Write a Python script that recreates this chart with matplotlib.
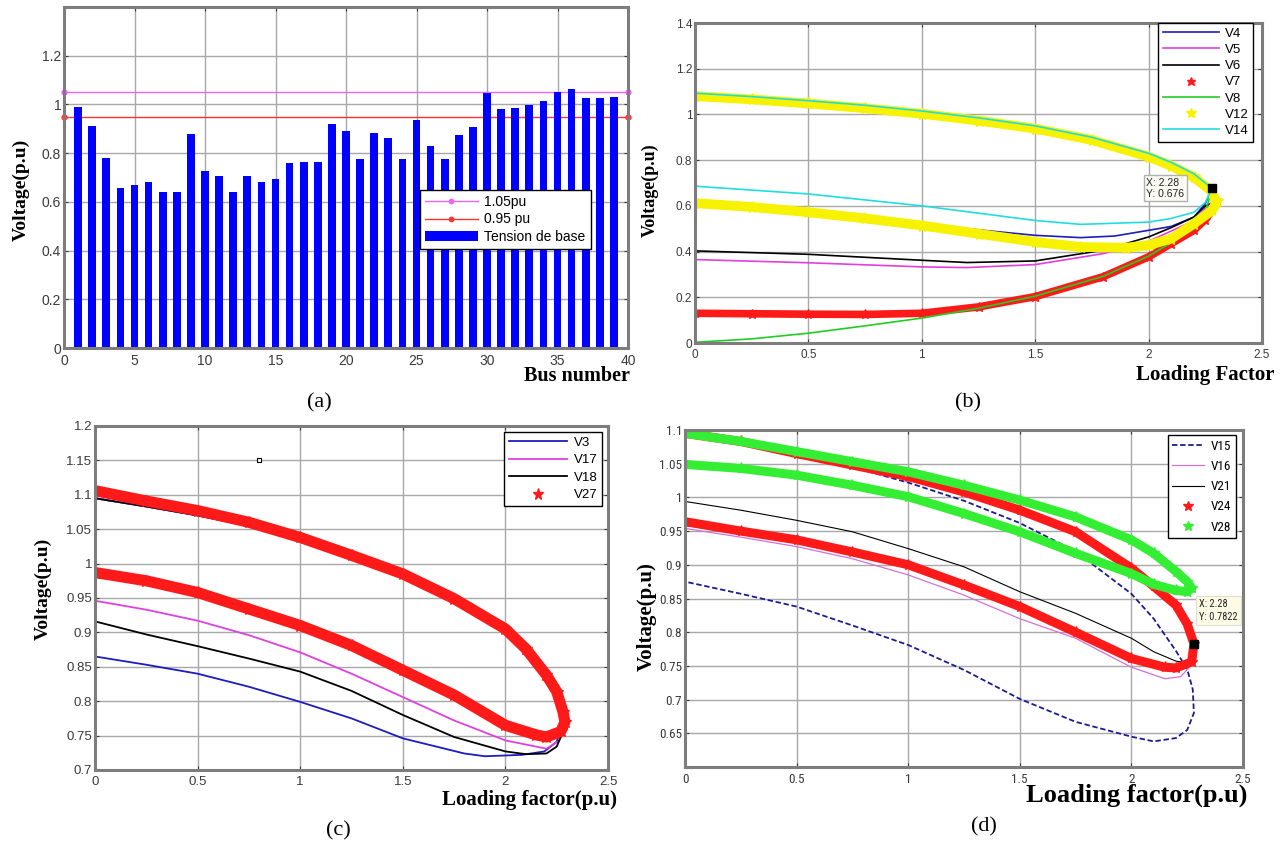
import matplotlib
matplotlib.use("Agg")
import matplotlib.pyplot as plt
from matplotlib import font_manager
from matplotlib.ticker import FuncFormatter, MultipleLocator

W, H = 1288, 848

# ---- (a) base-case bus voltages ----
BUS = list(range(1, 40))
V_BASE = [0.99, 0.91, 0.78, 0.655, 0.67, 0.68, 0.64, 0.64, 0.88, 0.725,
          0.705, 0.64, 0.705, 0.68, 0.695, 0.76, 0.765, 0.765, 0.92, 0.89,
          0.775, 0.884, 0.863, 0.778, 0.937, 0.831, 0.778, 0.873, 0.908, 1.048,
          0.983, 0.986, 0.998, 1.014, 1.05, 1.062, 1.028, 1.026, 1.03]
LIM_X = [0, 40]
LIM_HI = [1.05, 1.05]
LIM_LO = [0.95, 0.95]

# ---- (b) PV curves, buses 4 5 6 7 8 12 14 ----
B_UP_X1 = [0, 0.25, 0.5, 0.75, 1.0, 1.25, 1.5, 1.75, 2.0, 2.1, 2.2, 2.25, 2.28]
B_UP_Y1 = [1.093, 1.078, 1.06, 1.04, 1.015, 0.985, 0.95, 0.9, 0.83, 0.79, 0.74, 0.70, 0.676]
B_UP_X2 = [0, 0.25, 0.5, 0.75, 1.0, 1.25, 1.5, 1.75, 2.0, 2.1, 2.2, 2.27, 2.3]
B_UP_Y2 = [1.08, 1.066, 1.048, 1.027, 1.003, 0.973, 0.938, 0.888, 0.815, 0.775, 0.725, 0.67, 0.62]

B_V4_X = [2.25, 2.2, 2.1, 2.0, 1.85, 1.7, 1.5, 1.25, 1.0, 0.5, 0]
B_V4_Y = [0.61, 0.551, 0.51, 0.493, 0.468, 0.461, 0.471, 0.495, 0.522, 0.58, 0.62]
B_V5_X = [2.25, 2.2, 2.1, 2.0, 1.8, 1.5, 1.2, 1.0, 0.5, 0]
B_V5_Y = [0.59, 0.536, 0.49, 0.445, 0.391, 0.343, 0.330, 0.333, 0.351, 0.365]
B_V6_X = [2.25, 2.2, 2.1, 2.0, 1.8, 1.5, 1.2, 1.0, 0.5, 0]
B_V6_Y = [0.60, 0.551, 0.505, 0.464, 0.406, 0.359, 0.352, 0.362, 0.388, 0.403]
B_V7_X = [2.28, 2.25, 2.2, 2.1, 2.0, 1.8, 1.5, 1.25, 1.0, 0.75, 0.5, 0.25, 0]
B_V7_Y = [0.58, 0.54, 0.493, 0.435, 0.377, 0.29, 0.203, 0.158, 0.13, 0.125, 0.126, 0.128, 0.13]
B_V8_X = [2.25, 2.2, 2.1, 2.0, 1.8, 1.5, 1.25, 1.0, 0.75, 0.5, 0.25, 0]
B_V8_Y = [0.57, 0.50, 0.44, 0.38, 0.292, 0.205, 0.152, 0.109, 0.075, 0.043, 0.018, 0.003]
B_V12_X = [2.28, 2.2, 2.1, 2.0, 1.9, 1.7, 1.5, 1.25, 1.0, 0.75, 0.5, 0.25, 0]
B_V12_Y = [0.58, 0.522, 0.457, 0.428, 0.417, 0.42, 0.442, 0.478, 0.514, 0.545, 0.572, 0.595, 0.612]
B_V14_X = [2.25, 2.2, 2.1, 2.0, 1.7, 1.5, 1.25, 1.0, 0.5, 0]
B_V14_Y = [0.615, 0.572, 0.545, 0.529, 0.519, 0.536, 0.568, 0.60, 0.652, 0.686]
B_TIP = (2.28, 0.676)

# ---- (c) PV curves, buses 3 17 18 27 ----
C_UP_X = [0, 0.25, 0.5, 0.75, 1.0, 1.25, 1.5, 1.75, 2.0, 2.1, 2.2, 2.25, 2.28]
C_UP_Y = [1.095, 1.083, 1.07, 1.055, 1.036, 1.011, 0.984, 0.948, 0.908, 0.881, 0.843, 0.812, 0.77]
C_V3_X = [2.25, 2.19, 2.08, 1.9, 1.8, 1.5, 1.25, 1.0, 0.75, 0.5, 0.25, 0]
C_V3_Y = [0.741, 0.727, 0.722, 0.72, 0.724, 0.746, 0.775, 0.799, 0.821, 0.84, 0.853, 0.865]
C_V17_X = [2.26, 2.2, 2.1, 2.0, 1.75, 1.5, 1.25, 1.0, 0.75, 0.5, 0.25, 0]
C_V17_Y = [0.742, 0.731, 0.737, 0.743, 0.772, 0.806, 0.84, 0.871, 0.896, 0.917, 0.933, 0.946]
C_V18_X = [2.27, 2.25, 2.2, 2.1, 2.0, 1.75, 1.5, 1.25, 1.0, 0.75, 0.5, 0.25, 0]
C_V18_Y = [0.748, 0.734, 0.724, 0.723, 0.727, 0.748, 0.78, 0.815, 0.843, 0.862, 0.88, 0.897, 0.916]
C_V27_X = [0, 0.25, 0.5, 0.75, 1.0, 1.25, 1.5, 1.75, 2.0, 2.1, 2.2, 2.25, 2.28, 2.29,
           2.27, 2.2, 2.15, 2.0, 1.75, 1.5, 1.25, 1.0, 0.75, 0.5, 0.25, 0]
C_V27_Y = [1.106, 1.091, 1.077, 1.06, 1.038, 1.012, 0.985, 0.949, 0.905, 0.876, 0.838, 0.814, 0.785, 0.77,
           0.756, 0.748, 0.751, 0.765, 0.809, 0.845, 0.881, 0.91, 0.934, 0.958, 0.975, 0.987]
C_DOT = (0.8, 1.15)

# ---- (d) PV curves, buses 15 16 21 24 28 ----
D_V15_X = [0, 0.25, 0.5, 0.75, 1.0, 1.25, 1.5, 1.75, 2.0, 2.1, 2.2, 2.25, 2.275,
           2.28, 2.25, 2.2, 2.1, 2.0, 1.75, 1.5, 1.25, 1.0, 0.75, 0.5, 0.25, 0]
D_V15_Y = [1.095, 1.082, 1.066, 1.045, 1.022, 0.995, 0.962, 0.92, 0.857, 0.82, 0.772, 0.745, 0.715,
           0.68, 0.655, 0.643, 0.638, 0.645, 0.667, 0.701, 0.744, 0.781, 0.81, 0.838, 0.857, 0.875]
D_UP_X = [0, 0.25, 0.5, 0.75, 1.0, 1.25, 1.5, 1.75, 2.0, 2.1, 2.2, 2.25, 2.28]
D_UP_Y = [1.095, 1.083, 1.065, 1.048, 1.031, 1.008, 0.981, 0.949, 0.895, 0.868, 0.84, 0.812, 0.783]
D_V16_X = [2.26, 2.22, 2.15, 2.0, 1.75, 1.5, 1.25, 1.0, 0.75, 0.5, 0.25, 0]
D_V16_Y = [0.748, 0.734, 0.731, 0.748, 0.791, 0.82, 0.855, 0.885, 0.909, 0.927, 0.941, 0.954]
D_V21_X = [2.25, 2.2, 2.1, 2.0, 1.75, 1.5, 1.25, 1.0, 0.75, 0.5, 0.25, 0]
D_V21_Y = [0.755, 0.757, 0.771, 0.791, 0.828, 0.86, 0.897, 0.924, 0.949, 0.966, 0.981, 0.994]
D_V24_X = [2.27, 2.2, 2.15, 2.0, 1.75, 1.5, 1.25, 1.0, 0.75, 0.5, 0.25, 0]
D_V24_Y = [0.756, 0.747, 0.748, 0.761, 0.80, 0.838, 0.87, 0.90, 0.919, 0.937, 0.95, 0.964]
D_V28_X = [0, 0.25, 0.5, 0.75, 1.0, 1.25, 1.5, 1.75, 2.0, 2.1, 2.2, 2.25, 2.27,
           2.25, 2.2, 2.1, 2.0, 1.75, 1.5, 1.25, 1.0, 0.75, 0.5, 0.25, 0]
D_V28_Y = [1.095, 1.083, 1.068, 1.053, 1.038, 1.018, 0.996, 0.971, 0.937, 0.917, 0.89, 0.875, 0.865,
           0.86, 0.862, 0.871, 0.887, 0.917, 0.949, 0.976, 1.001, 1.018, 1.033, 1.043, 1.049]
D_TIP = (2.28, 0.7822)


def first_font(*names):
    have = {f.name for f in font_manager.fontManager.ttflist}
    for n in names:
        if n in have:
            return n
    return "DejaVu Sans"


SANS = first_font("Liberation Sans", "Arial")
NARROW = first_font("Liberation Sans Narrow", "Roboto Condensed", "Liberation Sans")
SERIF = first_font("Liberation Serif", "Times New Roman", "DejaVu Serif")


def px(x, y):
    return x / W, 1 - y / H


def box(x0, y0, x1, y1):
    return [x0 / W, 1 - y1 / H, (x1 - x0) / W, (y1 - y0) / H]


def style(ax, size, family, xpad=4, ypad=2):
    for s in ax.spines.values():
        s.set_color("#7d7d7d")
        s.set_linewidth(2.2)
    ax.grid(True, color="#a8a8a8", lw=1.0)
    ax.set_axisbelow(True)
    ax.tick_params(direction="in", length=3, width=0.8, top=True, right=True,
                   colors="#3a3a3a", labelsize=size)
    ax.tick_params(axis="x", pad=xpad)
    ax.tick_params(axis="y", pad=ypad)
    fmt = FuncFormatter(lambda v, _: f"{v:g}")
    ax.xaxis.set_major_formatter(fmt)
    ax.yaxis.set_major_formatter(fmt)
    for lab in ax.get_xticklabels() + ax.get_yticklabels():
        lab.set_family(family)


def star_band(ax, x, y, color, lw, ms, label):
    # thick stroke plus star markers, so the curve reads as a dense star trail
    ax.plot(x, y, color=color, lw=lw, solid_joinstyle="round", solid_capstyle="round")
    ax.plot(x, y, ls="none", marker="*", ms=ms, color=color, mec=color, label=label)


def legend(ax, loc, anchor, size, family, hl, spacing):
    lg = ax.legend(loc=loc, bbox_to_anchor=anchor, fancybox=False, framealpha=1,
                   edgecolor="black", prop={"family": family, "size": size},
                   handlelength=hl, labelspacing=spacing, borderpad=0.35,
                   handletextpad=0.5, borderaxespad=0, markerscale=0.9)
    lg.get_frame().set_linewidth(1.0)
    return lg


def lab(text, x, y, size, ha="center", rot=0):
    fig.text(*px(x, y), text, ha=ha, va="center", rotation=rot,
             family=SERIF, fontweight="bold", fontsize=size)


def caption(text, x, y):
    fig.text(*px(x, y), text, ha="center", va="center", family=SERIF, fontsize=16)


fig = plt.figure(figsize=(W / 100, H / 100), dpi=100)

# ---------------- (a) ----------------
ax = fig.add_axes(box(64, 7, 628, 348))
ax.plot(LIM_X, LIM_HI, color="#ee66ee", lw=1.0, marker="o", ms=3.5, label="1.05pu")
ax.plot(LIM_X, LIM_LO, color="#ff3333", lw=1.0, marker="o", ms=3.5, label="0.95 pu")
ax.bar(BUS, V_BASE, width=0.55, color="#0000ff", label="Tension de base", zorder=2)
ax.set_xlim(0, 40)
ax.set_ylim(0, 1.4)
ax.set_yticks([0, 0.2, 0.4, 0.6, 0.8, 1.0, 1.2])
ax.xaxis.set_major_locator(MultipleLocator(5))
style(ax, 10, SANS)
for ln in ax.lines:
    ln.set_clip_on(False)
legend(ax, "upper left", (0.631, 0.463), 10, SANS, 3.8, 0.25)
lab("Voltage(p.u)", 21, 190, 14, rot=90)
lab("Bus number", 630, 376, 14.5, ha="right")
caption("(a)", 319, 403)

# ---------------- (b) ----------------
ax = fig.add_axes(box(695, 23, 1262, 343))
ax.plot(B_UP_X1 + B_V4_X, B_UP_Y1 + B_V4_Y, color="#1c1cc0", lw=1.2, label="V4")
ax.plot(B_UP_X2 + B_V5_X, B_UP_Y2 + B_V5_Y, color="#e040e0", lw=1.2, label="V5")
ax.plot(B_UP_X2 + B_V6_X, B_UP_Y2 + B_V6_Y, color="black", lw=1.2, label="V6")
star_band(ax, B_UP_X2 + B_V7_X, B_UP_Y2 + B_V7_Y, "#ff1a1a", 5.5, 7, "V7")
ax.plot(B_UP_X1 + B_V8_X, B_UP_Y1 + B_V8_Y, color="#22cc22", lw=1.2, label="V8")
star_band(ax, B_UP_X2 + B_V12_X, B_UP_Y2 + B_V12_Y, "#f7f200", 7.0, 8.5, "V12")
ax.plot(B_UP_X1 + B_V14_X, B_UP_Y1 + B_V14_Y, color="#20dede", lw=1.2, label="V14")
ax.plot(*B_TIP, marker="s", ms=6, color="black", zorder=6)
ax.text(1.99, 0.722, f"X: {B_TIP[0]:g}\nY: {B_TIP[1]:g}", fontsize=7.5, family=SANS,
        ha="left", va="top", color="#222222", zorder=5, linespacing=1.1,
        bbox=dict(boxstyle="square,pad=0.25", fc="#fbfbf3", ec="#b0b0b0", lw=1.0))
ax.set_xlim(0, 2.5)
ax.set_ylim(0, 1.4)
ax.xaxis.set_major_locator(MultipleLocator(0.5))
ax.yaxis.set_major_locator(MultipleLocator(0.2))
style(ax, 8.5, SANS)
legend(ax, "upper right", (0.985, 1.0), 9.5, SANS, 4.2, 0.3)
lab("Voltage(p.u)", 650, 190, 13, rot=90)
lab("Loading Factor", 1275, 375, 15, ha="right")
caption("(b)", 968, 403)

# ---------------- (c) ----------------
ax = fig.add_axes(box(95, 426, 608, 770))
ax.plot(C_UP_X + C_V3_X, C_UP_Y + C_V3_Y, color="#1c1cc0", lw=1.3, label="V3")
ax.plot(C_UP_X + C_V17_X, C_UP_Y + C_V17_Y, color="#e040e0", lw=1.3, label="V17")
ax.plot(C_UP_X + C_V18_X, C_UP_Y + C_V18_Y, color="black", lw=1.3, label="V18")
star_band(ax, C_V27_X, C_V27_Y, "#ff1a1a", 8.0, 9, "V27")
ax.plot(*C_DOT, marker="s", ms=3, mfc="white", mec="black", mew=0.8)
ax.set_xlim(0, 2.5)
ax.set_ylim(0.7, 1.2)
ax.xaxis.set_major_locator(MultipleLocator(0.5))
ax.yaxis.set_major_locator(MultipleLocator(0.05))
style(ax, 9.5, SANS)
legend(ax, "upper right", (0.988, 0.983), 9.5, SANS, 4.4, 0.4)
lab("Voltage(p.u)", 43, 589, 14, rot=90)
lab("Loading factor(p.u)", 617, 800, 15, ha="right")
caption("(c)", 338, 831)

# ---------------- (d) ----------------
ax = fig.add_axes(box(685, 430, 1243, 767))
ax.plot(D_V15_X, D_V15_Y, color="#1c1c90", lw=1.3, ls=(0, (3, 1.5)), label="V15")
ax.plot(D_UP_X + D_V16_X, D_UP_Y + D_V16_Y, color="#d670d6", lw=0.9, label="V16")
ax.plot(D_UP_X + D_V21_X, D_UP_Y + D_V21_Y, color="black", lw=0.8, label="V21")
star_band(ax, D_UP_X + D_V24_X, D_UP_Y + D_V24_Y, "#ff1a1a", 6.5, 8, "V24")
star_band(ax, D_V28_X, D_V28_Y, "#33ee33", 6.5, 8, "V28")
ax.plot(*D_TIP, marker="s", ms=6, color="black", zorder=6)
ax.text(2.303, 0.849, f"X: {D_TIP[0]:g}\nY: {D_TIP[1]:g}", fontsize=7.5, family=NARROW,
        ha="left", va="top", color="#222222", zorder=5, linespacing=1.3,
        bbox=dict(boxstyle="square,pad=0.3", fc="#fdfbe6", ec="#e0e0d0", lw=0.8))
ax.set_xlim(0, 2.5)
ax.set_ylim(0.6, 1.1)
ax.xaxis.set_major_locator(MultipleLocator(0.5))
ax.set_yticks([0.6, 0.65, 0.7, 0.75, 0.8, 0.85, 0.9, 0.95, 1.0, 1.05, 1.1])
style(ax, 9.5, NARROW)
ax.yaxis.set_major_formatter(FuncFormatter(lambda v, _: "" if v < 0.62 else f"{v:g}"))
for t in ax.get_yticklabels():
    t.set_family(NARROW)
legend(ax, "upper right", (0.987, 0.985), 9.5, NARROW, 2.4, 0.55)
lab("Voltage(p.u)", 647, 617, 15, rot=90)
lab("Loading factor(p.u)", 1247, 795, 19, ha="right")
caption("(d)", 984, 827)

fig.savefig("out.png", dpi=100, facecolor="white")
